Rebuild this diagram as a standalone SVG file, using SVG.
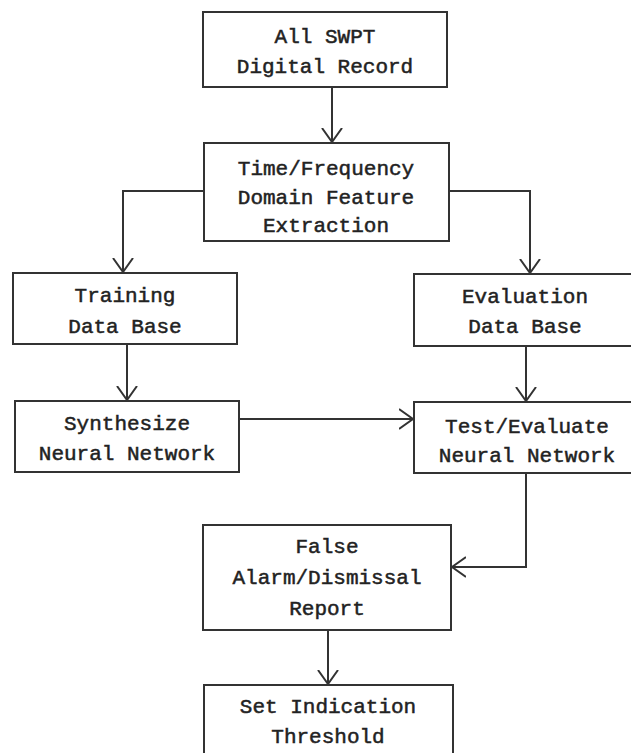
<svg xmlns="http://www.w3.org/2000/svg" width="631" height="753" viewBox="0 0 631 753">
<style>
.box{fill:#fff;stroke:#333;stroke-width:2}
.t{font-family:"Liberation Mono","DejaVu Sans Mono",monospace;font-size:21px;fill:#222;stroke:#222;stroke-width:0.5;text-anchor:middle}
.c{fill:none;stroke:#333;stroke-width:2}
</style>
<defs>
<marker id="ah" markerWidth="16" markerHeight="22" refX="14" refY="11" orient="auto" markerUnits="userSpaceOnUse">
<path d="M0,1 L14,11 L0,21" fill="none" stroke="#333" stroke-width="2"/>
</marker>
</defs>
<rect width="631" height="753" fill="#fff"/>
<g id="connectors">
<path class="c" d="M332,87 V142" marker-end="url(#ah)"/>
<path class="c" d="M204,191 H123 V272" marker-end="url(#ah)"/>
<path class="c" d="M449,191 H530 V273" marker-end="url(#ah)"/>
<path class="c" d="M127,344 V400" marker-end="url(#ah)"/>
<path class="c" d="M526,346 V401" marker-end="url(#ah)"/>
<path class="c" d="M239,419 H413" marker-end="url(#ah)"/>
<path class="c" d="M526,473 V567 H452" marker-end="url(#ah)"/>
<path class="c" d="M328,630 V684" marker-end="url(#ah)"/>
</g>
<g id="n1"><rect class="box" x="203" y="12" width="244" height="75"/>
<text class="t" x="325" y="43">All SWPT</text><text class="t" x="325" y="73">Digital Record</text></g>
<g id="n2"><rect class="box" x="204" y="143" width="245" height="98"/>
<text class="t" x="326" y="175">Time/Frequency</text><text class="t" x="326" y="204">Domain Feature</text><text class="t" x="326" y="232">Extraction</text></g>
<g id="n3"><rect class="box" x="13" y="273" width="224" height="71"/>
<text class="t" x="125" y="302">Training</text><text class="t" x="125" y="333">Data Base</text></g>
<g id="n4"><rect class="box" x="414" y="274" width="222" height="72"/>
<text class="t" x="525" y="303">Evaluation</text><text class="t" x="525" y="333">Data Base</text></g>
<g id="n5"><rect class="box" x="15" y="401" width="224" height="71"/>
<text class="t" x="127" y="430">Synthesize</text><text class="t" x="127" y="460">Neural Network</text></g>
<g id="n6"><rect class="box" x="414" y="402" width="222" height="71"/>
<text class="t" x="527" y="433">Test/Evaluate</text><text class="t" x="527" y="462">Neural Network</text></g>
<g id="n7"><rect class="box" x="203" y="525" width="248" height="105"/>
<text class="t" x="327" y="553">False</text><text class="t" x="327" y="584">Alarm/Dismissal</text><text class="t" x="327" y="615">Report</text></g>
<g id="n8"><rect class="box" x="204" y="685" width="249" height="80"/>
<text class="t" x="328" y="713">Set Indication</text><text class="t" x="328" y="743">Threshold</text></g>
</svg>
